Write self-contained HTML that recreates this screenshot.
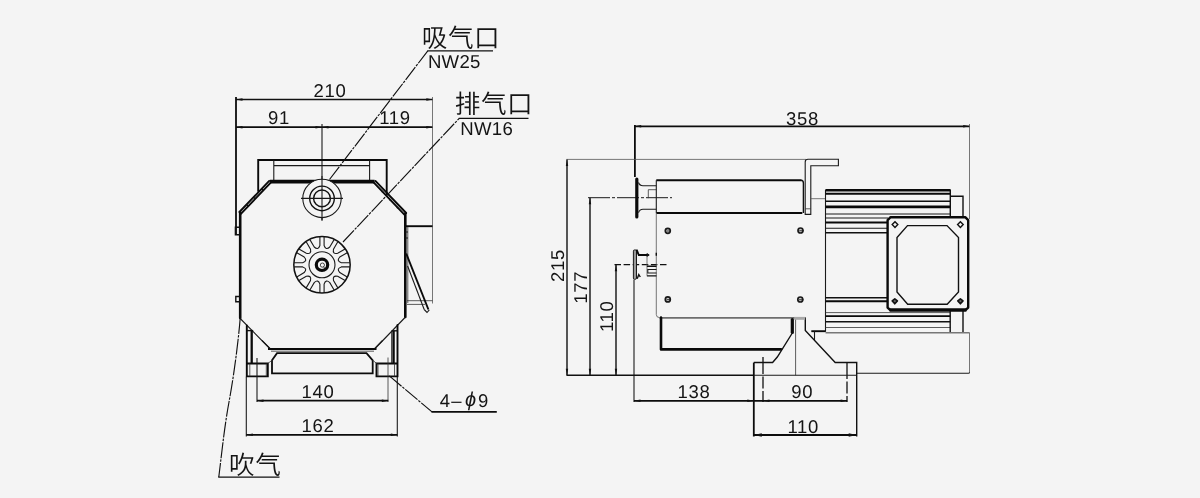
<!DOCTYPE html>
<html lang="zh"><head><meta charset="utf-8"><title>外形尺寸图</title>
<style>
html,body{margin:0;padding:0;background:#f4f4f4;}
body{width:1200px;height:498px;overflow:hidden;}
svg{display:block;will-change:transform;}
.k{stroke:#1a1a1a;stroke-width:1.1;fill:none;}
.k14{stroke:#111;stroke-width:1.4;fill:none;}
.t24{stroke:#0a0a0a;stroke-width:2.3;fill:none;}
.t26{stroke:#0a0a0a;stroke-width:2.6;fill:none;}
.t24f{stroke:#0a0a0a;stroke-width:2.4;fill:#f4f4f4;stroke-linejoin:round;}
.t35b{stroke:#0a0a0a;stroke-width:3.4;fill:none;}
.scr{stroke:#111;stroke-width:1.6;fill:#666;stroke-linejoin:round;}
.k17{stroke:#0a0a0a;stroke-width:1.9;fill:none;stroke-linecap:round;}
.scr2{stroke:#1a1a1a;stroke-width:1.7;fill:#c8c8c8;}
.k8{stroke:#1a1a1a;stroke-width:.8;fill:none;}
.kf{stroke:#1a1a1a;stroke-width:1.1;fill:#f4f4f4;}
.kf14{stroke:#111;stroke-width:1.5;fill:#f4f4f4;}
.kgray{stroke:#1a1a1a;stroke-width:1;fill:#999;}
.g{stroke:#555;stroke-width:.8;fill:none;}
.gb{stroke:#6e6e6e;stroke-width:1.7;fill:none;}
.gb2{stroke:#777;stroke-width:1.4;fill:none;}
.g2{stroke:#333;stroke-width:.8;fill:none;}
.t{stroke:#0a0a0a;stroke-width:2.6;fill:none;stroke-linejoin:round;stroke-linecap:round;}
.t2{stroke:#0a0a0a;stroke-width:1.9;fill:none;}
.t2f{stroke:#0a0a0a;stroke-width:2;fill:#f4f4f4;}
.t34{stroke:#0a0a0a;stroke-width:3.2;fill:none;}
.t3{stroke:#0a0a0a;stroke-width:3.7;fill:none;}
.t35{stroke:#0a0a0a;stroke-width:3.2;fill:none;stroke-linecap:round;}
.d{stroke:#111;stroke-width:1.3;fill:none;}
.d2{stroke:#0c0c0c;stroke-width:1.8;fill:none;}
.dd{stroke:#111;stroke-width:1.15;fill:none;stroke-dasharray:16 1.2 2.5 1.2;}
.dc{stroke:#1a1a1a;stroke-width:1;fill:none;stroke-dasharray:22 2 3 2;}
.dc2{stroke:#111;stroke-width:1.3;fill:none;stroke-dasharray:6.5 2.6;}
.dv{stroke:#111;stroke-width:1.3;fill:none;stroke-dasharray:17 2.5 12 2.5 40 2.5;}
.d15{stroke:#0c0c0c;stroke-width:1.8;fill:none;}
.a{fill:#111;stroke:none;}
text{font-family:"Liberation Sans","Noto Sans CJK SC",sans-serif;fill:#141414;text-rendering:geometricPrecision;}
.n{font-size:18.5px;text-anchor:middle;letter-spacing:.7px;}
.ns{font-size:18.5px;text-anchor:start;}
.nw{font-size:18.6px;letter-spacing:.3px;}
.c{font-size:25.6px;font-weight:350;letter-spacing:.6px;}
</style></head>
<body>
<svg width="1200" height="498" viewBox="0 0 1200 498">
<rect x="0" y="0" width="1200" height="498" fill="#f4f4f4"/>
<line x1="236" y1="99.5" x2="432.8" y2="99.5" class="d"/>
<line x1="236" y1="127.2" x2="432.8" y2="127.2" class="d2"/>
<line x1="236" y1="97" x2="236" y2="234" class="d15"/>
<line x1="432.5" y1="97" x2="432.5" y2="303.5" class="g"/>
<path d="M236,99.5 L242.5,100.7 L242.5,98.3 Z" class="a"/>
<path d="M432.8,99.5 L426.3,100.7 L426.3,98.3 Z" class="a"/>
<path d="M236,127.2 L242.5,128.4 L242.5,126.0 Z" class="a"/>
<path d="M322,127.2 L315.5,128.4 L315.5,126.0 Z" class="a"/>
<path d="M322,127.2 L328.5,128.4 L328.5,126.0 Z" class="a"/>
<path d="M432.8,127.2 L426.3,128.4 L426.3,126.0 Z" class="a"/>
<line x1="322" y1="124" x2="322" y2="220.5" class="k"/>
<text x="330" y="96.5" class="n">210</text>
<text x="279" y="124.2" class="n">91</text>
<text x="395" y="124.2" class="n">119</text>
<path d="M258.2,191 V160 H386.7 V194" class="k17"/>
<path d="M273.8,160 V180 M369.6,160 V180 M273.8,165.6 H369.6" class="k"/>
<path d="M269.8,181.6 H374.6" class="t3"/>
<path d="M240.2,212.5 V318" class="t"/>
<path d="M269.2,180.9 L239.4,212 M271,182.4 L240.9,213.8" class="k17"/>
<path d="M262,189 l1.2,1.2 M254,197.5 l1.2,1.2 M247,205 l1.2,1.2" class="k14"/>
<path d="M405.3,213.5 V317" class="t"/>
<path d="M375.4,180.9 L406.2,213 M373.6,182.4 L404.6,214.8" class="k17"/>
<path d="M383,191 l-1.2,1.2 M391,199.5 l-1.2,1.2 M398,207 l-1.2,1.2" class="k14"/>
<path d="M239.7,318 L270.2,349 M405.5,317 L374.6,349" class="k"/>
<path d="M262,340.5 L270.5,349 H374.3 L382.5,340.5" class="k"/>
<line x1="268" y1="349" x2="376.5" y2="349" class="t2"/>
<path d="M271,351.2 H374" class="g2"/>
<path d="M239,227.3 H235.4 V234.8 H239 M239,296.5 H235.8 V301.8 H239" class="k14"/>
<circle cx="322" cy="198.4" r="19.2" class="kf"/>
<circle cx="322" cy="198.4" r="12.3" class="k14"/>
<circle cx="322" cy="198.4" r="8.4" class="k14"/>
<line x1="301" y1="198.4" x2="343" y2="198.4" class="k"/>
<line x1="322" y1="176" x2="322" y2="220.5" class="k"/>
<circle cx="322" cy="264.8" r="28.2" class="kf14"/>
<circle cx="322" cy="264.8" r="13" class="k"/>
<circle cx="322" cy="264.8" r="5.7" class="t34"/>
<circle cx="322.4" cy="265.1" r="2.1" class="k8"/>
<path d="M323.5,266.6 l2.2,3" class="k8"/>
<path d="M349.9,262.7 L341.3,262.7 Q336.1,261.0 339.8,257.0 L347.2,252.7" class="k"/>
<path d="M345.1,249.0 L337.7,253.3 Q332.3,254.5 333.5,249.1 L337.8,241.7" class="k"/>
<path d="M334.1,239.6 L329.8,247.0 Q325.8,250.7 324.1,245.5 L324.1,236.9" class="k"/>
<path d="M319.9,236.9 L319.9,245.5 Q318.2,250.7 314.2,247.0 L309.9,239.6" class="k"/>
<path d="M306.2,241.7 L310.5,249.1 Q311.7,254.5 306.3,253.3 L298.9,249.0" class="k"/>
<path d="M296.8,252.7 L304.2,257.0 Q307.9,261.0 302.7,262.7 L294.1,262.7" class="k"/>
<path d="M294.1,266.9 L302.7,266.9 Q307.9,268.6 304.2,272.6 L296.8,276.9" class="k"/>
<path d="M298.9,280.6 L306.3,276.3 Q311.7,275.1 310.5,280.5 L306.2,287.9" class="k"/>
<path d="M309.9,290.0 L314.2,282.6 Q318.2,278.9 319.9,284.1 L319.9,292.7" class="k"/>
<path d="M324.1,292.7 L324.1,284.1 Q325.8,278.9 329.8,282.6 L334.1,290.0" class="k"/>
<path d="M337.8,287.9 L333.5,280.5 Q332.3,275.1 337.7,276.3 L345.1,280.6" class="k"/>
<path d="M347.2,276.9 L339.8,272.6 Q336.1,268.6 341.3,266.9 L349.9,266.9" class="k"/>
<line x1="405.5" y1="226.2" x2="432.5" y2="226.2" class="t2"/>
<line x1="407.8" y1="227" x2="407.8" y2="303" class="g2"/>
<path d="M407,300.7 H432.5 M407,304.4 H425" class="g2"/>
<path d="M406.2,253.5 L428.4,309.5" class="t2"/>
<path d="M407.6,266 L424.2,309.5" class="k"/>
<path d="M424.2,309.5 L427,312.5 L429.3,309.8" class="k"/>
<path d="M405.5,232 h2.5 M405.5,238 h2.5" class="k"/>
<path d="M246.8,325.5 V376.4 H267.8 V363.5 H246.8" class="k17"/>
<path d="M246.8,330.6 H253.2" class="k14"/>
<line x1="251.7" y1="330.6" x2="251.7" y2="363" class="t24"/>
<path d="M249.8,363.5 V376.4 M266.3,363.5 V376.4" class="g2"/>
<path d="M397.5,325 V376.4 H376.5 V363.5 H397.5" class="k17"/>
<path d="M391.6,330.8 H397.5" class="k14"/>
<line x1="393.6" y1="330.8" x2="393.6" y2="363" class="t24"/>
<line x1="391.8" y1="330.8" x2="391.8" y2="363" class="k"/>
<path d="M394.5,363.5 V376.4 M378,363.5 V376.4" class="g2"/>
<path d="M277,353.2 H366.5 L372.7,360.3 V373.3 H272 V360.3 Z" class="d2"/>
<path d="M272,360.3 L267.8,363.5 M372.7,360.3 L376.8,363.5" class="g2"/>
<line x1="257" y1="358" x2="257" y2="402" class="k"/>
<line x1="388" y1="357.5" x2="388" y2="402" class="g2"/>
<line x1="257" y1="400.7" x2="388.3" y2="400.7" class="d2"/>
<path d="M257,400.7 L263.5,401.9 L263.5,399.5 Z" class="a"/>
<path d="M388.3,400.7 L381.8,401.9 L381.8,399.5 Z" class="a"/>
<line x1="246.3" y1="376.7" x2="246.3" y2="436.5" class="k"/>
<line x1="397.3" y1="376.7" x2="397.3" y2="436.5" class="k"/>
<line x1="246.3" y1="434.8" x2="397.3" y2="434.8" class="d2"/>
<path d="M246.3,434.8 L252.8,436.0 L252.8,433.6 Z" class="a"/>
<path d="M397.3,434.8 L390.8,436.0 L390.8,433.6 Z" class="a"/>
<text x="318" y="397.5" class="n">140</text>
<text x="318" y="431.9" class="n">162</text>
<path d="M389.3,375.9 L432,411.9" class="dd"/>
<line x1="431.5" y1="411.9" x2="496.8" y2="411.9" class="d2"/>
<text y="406.8" class="ns"><tspan x="439.7">4</tspan><tspan x="451.2">–</tspan><tspan x="465" y="405.6" font-style="italic" font-size="20">ϕ</tspan><tspan x="478" y="406.8">9</tspan></text>
<path d="M240.2,318 C238.5,340 234,375 229,402 S221,460 218.8,477" class="dd"/>
<line x1="218.2" y1="477.2" x2="279.5" y2="477.2" class="d"/>
<text x="229" y="474.3" class="c" text-anchor="start">吹气</text>
<path d="M329.5,179.5 L427.8,50.8" class="dd"/>
<line x1="427.3" y1="50.8" x2="493" y2="50.8" class="d"/>
<text x="421.7" y="46.7" class="c" text-anchor="start">吸气口</text>
<text x="427.9" y="68.2" class="nw" text-anchor="start">NW25</text>
<path d="M343,242 L459.3,118.3" class="dd"/>
<line x1="458.8" y1="118.3" x2="528.5" y2="118.3" class="d"/>
<text x="454.7" y="112.8" class="c" text-anchor="start">排气口</text>
<text x="460.2" y="135.1" class="nw" text-anchor="start">NW16</text>
<line x1="634.7" y1="126.3" x2="969.7" y2="126.3" class="d2"/>
<line x1="634.9" y1="125" x2="634.9" y2="177" class="d15"/>
<line x1="969.5" y1="124" x2="969.5" y2="219" class="g"/>
<line x1="969.5" y1="332.7" x2="969.5" y2="372.5" class="g"/>
<path d="M634.7,126.3 L641.2,127.5 L641.2,125.1 Z" class="a"/>
<path d="M969.7,126.3 L963.2,127.5 L963.2,125.1 Z" class="a"/>
<text x="802.6" y="124.9" class="n">358</text>
<line x1="566.5" y1="159.4" x2="806" y2="159.4" class="g"/>
<line x1="567" y1="159.4" x2="567" y2="375.3" class="k14"/>
<line x1="590" y1="197.7" x2="590" y2="375.3" class="k14"/>
<line x1="616" y1="264.7" x2="616" y2="375.3" class="k14"/>
<path d="M567,159.4 L568.2,165.9 L565.8,165.9 Z" class="a"/>
<path d="M567,375.3 L568.2,368.8 L565.8,368.8 Z" class="a"/>
<path d="M590,197.7 L591.2,204.2 L588.8,204.2 Z" class="a"/>
<path d="M590,375.3 L591.2,368.8 L588.8,368.8 Z" class="a"/>
<path d="M616,264.7 L617.2,271.2 L614.8,271.2 Z" class="a"/>
<path d="M616,375.3 L617.2,368.8 L614.8,368.8 Z" class="a"/>
<line x1="588" y1="197.7" x2="672" y2="197.7" class="dc"/>
<line x1="614.5" y1="264.7" x2="668.5" y2="264.7" class="dc2"/>
<line x1="634" y1="279.5" x2="634" y2="402" class="k"/>
<line x1="566.5" y1="375.3" x2="754" y2="375.3" class="k14"/>
<text transform="translate(564,265.6) rotate(-90)" class="n">215</text>
<text transform="translate(587.2,287.3) rotate(-90)" class="n">177</text>
<text transform="translate(613.3,316.3) rotate(-90)" class="n">110</text>
<path d="M636.8,179 V217" class="t35"/>
<path d="M638.5,182.5 Q639.5,185.7 643,185.7 H656.3 M638.5,212.7 Q639.5,209.3 643,209.3 H656.3" class="k"/>
<path d="M656.3,189.7 H648.3 V198.2" class="g2"/>
<path d="M656.3,180.2 H801.3 M656.3,213 H802.3" class="t2"/>
<line x1="656.3" y1="180.2" x2="656.3" y2="213" class="k"/>
<path d="M801,180.3 Q803.4,180.5 803.4,183 V213" class="k14"/>
<path d="M656.3,213 V314.5 Q656.3,317.6 659.5,317.6" class="g"/>
<line x1="659.5" y1="317.8" x2="805.3" y2="317.8" class="gb"/>
<circle cx="667.8" cy="230.8" r="2.5" class="scr2"/>
<line x1="666.5999999999999" y1="231.0" x2="671.0" y2="231.0" class="k8"/>
<circle cx="800.5" cy="230.5" r="2.5" class="scr2"/>
<line x1="799.3" y1="230.7" x2="803.7" y2="230.7" class="k8"/>
<circle cx="667.8" cy="299.4" r="2.5" class="scr2"/>
<line x1="666.5999999999999" y1="299.59999999999997" x2="671.0" y2="299.59999999999997" class="k8"/>
<circle cx="800.3" cy="299.5" r="2.5" class="scr2"/>
<line x1="799.0999999999999" y1="299.7" x2="803.5" y2="299.7" class="k8"/>
<rect x="633.4" y="249.9" width="3.1" height="29.4" rx="1.2" class="kgray"/>
<path d="M636.9,250.3 L638.8,255 H648.4" class="k17"/>
<path d="M646.8,253.3 l1.7,1.7 l-1.7,1.7" class="k"/>
<line x1="647" y1="256" x2="647" y2="275.6" class="g"/>
<path d="M646.9,266.3 H656.5 M646.9,275.9 H656.5" class="k14"/>
<path d="M656.5,269.5 H647.8 V273 H656.5" class="k"/>
<line x1="656.3" y1="252.8" x2="656.3" y2="255.8" class="k14"/>
<path d="M637.2,278.8 l1.6,-4.2 l1.5,2.4" class="k14"/>
<path d="M808,159.3 H838.4 V165.7 H810.8 V214.4 H805.2 V162 Q805.2,159.3 808,159.3" class="k"/>
<path d="M805.2,208.8 H810.8" class="g2"/>
<line x1="810.8" y1="198.7" x2="825.3" y2="198.7" class="g"/>
<line x1="825.5" y1="189.8" x2="825.5" y2="331.8" class="k"/>
<line x1="825.5" y1="190.2" x2="950.3" y2="190.2" class="t26"/>
<line x1="825.5" y1="193.8" x2="950.3" y2="193.8" class="t2"/>
<line x1="825.5" y1="201.2" x2="950.3" y2="201.2" class="k14"/>
<line x1="825.5" y1="206.9" x2="950.3" y2="206.9" class="t26"/>
<line x1="825.5" y1="214" x2="950.3" y2="214" class="k"/>
<line x1="825.5" y1="218" x2="888" y2="218" class="k"/>
<line x1="825.5" y1="222.5" x2="887" y2="222.5" class="t2"/>
<line x1="825.5" y1="228.2" x2="887" y2="228.2" class="k"/>
<line x1="825.5" y1="232.7" x2="887" y2="232.7" class="k14"/>
<line x1="950.3" y1="189.5" x2="950.3" y2="217" class="k14"/>
<path d="M950.3,196.3 H963 V217" class="k14"/>
<line x1="825.5" y1="297.7" x2="887" y2="297.7" class="k14"/>
<line x1="825.5" y1="301.2" x2="887" y2="301.2" class="t2"/>
<line x1="825.5" y1="312.6" x2="950.3" y2="312.6" class="g2"/>
<line x1="825.5" y1="316.1" x2="950.3" y2="316.1" class="t2"/>
<line x1="825.5" y1="321.8" x2="950.3" y2="321.8" class="k14"/>
<line x1="825.5" y1="327.5" x2="950.3" y2="327.5" class="g2"/>
<line x1="950.2" y1="311" x2="950.2" y2="332.4" class="k14"/>
<line x1="963" y1="311" x2="963" y2="332.4" class="k14"/>
<path d="M890.6,217.2 H965.2 L968.2,220.2 V307.6 L965.2,310.4 H890.6 L887.6,307.6 V220.2 Z" class="t24f"/>
<line x1="889.5" y1="309.9" x2="966.5" y2="309.9" class="t35b"/>
<path d="M907.5,225.6 H947 L958.5,237.5 V292 L947.2,304.2 H907.7 L897,292 V237.5 Z" class="k14"/>
<path d="M892.2,224.6 L895,221.79999999999998 L897.8,224.6 L895,227.4 Z" class="k14"/>
<path d="M957.6,224.6 L960.4,221.79999999999998 L963.1999999999999,224.6 L960.4,227.4 Z" class="k14"/>
<path d="M892.1999999999999,300.9 L894.8,298.8 L897.4,300.9 L894.8,303.8 Z" class="scr"/>
<path d="M957.8,300.9 L960.4,298.8 L963.0,300.9 L960.4,303.8 Z" class="scr"/>
<path d="M811.3,331.2 H825.5" class="t2"/>
<line x1="825.5" y1="332.7" x2="969.6" y2="332.7" class="gb2"/>
<path d="M857,373.3 H968.4 Q969.5,373.3 969.5,372.2" class="k"/>
<line x1="814.5" y1="331.2" x2="814.5" y2="340.6" class="k"/>
<path d="M661,317.6 V349.4 H781" class="t"/>
<path d="M792.3,319.5 V332.5" class="t35"/>
<line x1="795.6" y1="318.5" x2="795.6" y2="375.3" class="g2"/>
<path d="M805.3,317.6 V330.5 L835.2,362.5 H856.7 V436.5" class="k14"/>
<path d="M792,333.5 L777.3,357 L772.6,362.5 H753.8" class="k14"/>
<line x1="753.8" y1="362.6" x2="753.8" y2="436.5" class="d2"/>
<path d="M799,317.6 H805.3" class="g"/>
<rect x="794.2" y="316.9" width="11" height="2.9" fill="#a8a8a8"/>
<line x1="763" y1="357" x2="763" y2="402" class="dv"/>
<line x1="847" y1="362" x2="847" y2="402" class="dv"/>
<line x1="754" y1="375.3" x2="857" y2="375.3" class="k"/>
<line x1="634" y1="400.8" x2="847.1" y2="400.8" class="d2"/>
<path d="M634,400.8 L640.5,402.0 L640.5,399.6 Z" class="a"/>
<path d="M753.8,400.8 L747.3,402.0 L747.3,399.6 Z" class="a"/>
<path d="M763,400.8 L769.5,402.0 L769.5,399.6 Z" class="a"/>
<path d="M847.1,400.8 L840.6,402.0 L840.6,399.6 Z" class="a"/>
<line x1="753.8" y1="435" x2="856.7" y2="435" class="d2"/>
<path d="M753.8,435 l8,1.7 v-3.4 Z M856.7,435 l-8,1.7 v-3.4 Z" class="a"/>
<text x="694" y="397.5" class="n">138</text>
<text x="802.2" y="397.5" class="n">90</text>
<text x="803.3" y="432.8" class="n">110</text>
</svg>
</body></html>
